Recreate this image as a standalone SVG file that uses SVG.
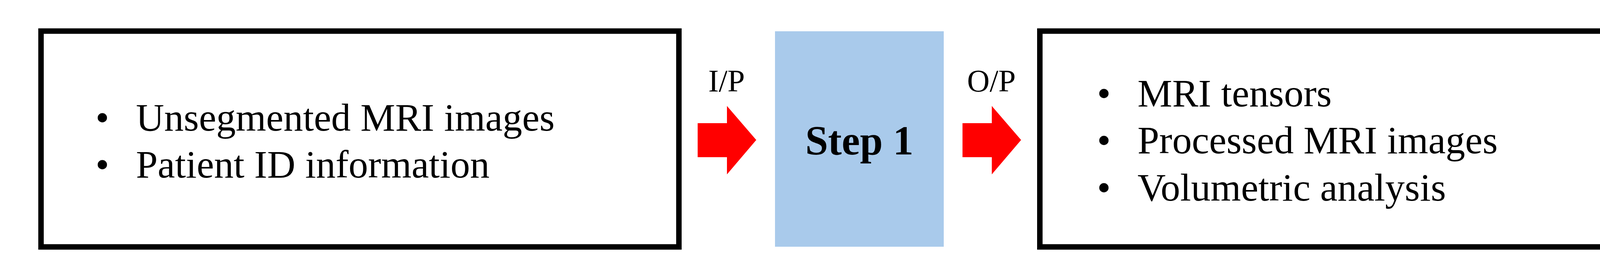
<svg xmlns="http://www.w3.org/2000/svg" width="4400" height="711" viewBox="0 0 4400 711">
<style>
.box{fill:#fff;stroke:#000;stroke-width:14}
.t{font-family:"Liberation Serif","Times New Roman",serif;font-size:100px;fill:#000}
.b{text-anchor:middle}
.lbl{font-family:"Liberation Serif","Times New Roman",serif;font-size:80px;fill:#000;text-anchor:middle}
.arr{fill:#FF0000}
</style>
<rect width="4400" height="711" fill="#fff"/>
<g id="input">
<rect class="box" x="105" y="79.5" width="1633" height="552"/>
<text class="t b" x="262" y="334">•</text>
<text class="t" x="348" y="334">Unsegmented MRI images</text>
<text class="t b" x="262" y="454">•</text>
<text class="t" x="348" y="454">Patient ID information</text>
</g>
<g id="step1">
<rect x="1984" y="80" width="432" height="551" fill="#A9CAEB"/>
<text x="2200" y="395" font-family="Liberation Serif, Times New Roman, serif" font-size="105" font-weight="bold" text-anchor="middle" fill="#000">Step 1</text>
</g>
<g id="output">
<rect class="box" x="2662" y="79.5" width="1635" height="552"/>
<text class="t b" x="2826" y="272">•</text>
<text class="t" x="2912" y="272">MRI tensors</text>
<text class="t b" x="2826" y="392">•</text>
<text class="t" x="2912" y="392">Processed MRI images</text>
<text class="t b" x="2826" y="513">•</text>
<text class="t" x="2912" y="513">Volumetric analysis</text>
</g>
<g id="connectors">
<polygon class="arr" points="1786,315 1861,315 1861,271 1936,358 1861,446 1861,402 1786,402"/>
<text class="lbl" x="1860" y="234">I/P</text>
<polygon class="arr" points="2464,315 2539,315 2539,271 2614,358 2539,446 2539,402 2464,402"/>
<text class="lbl" x="2538" y="234">O/P</text>
</g>
</svg>
